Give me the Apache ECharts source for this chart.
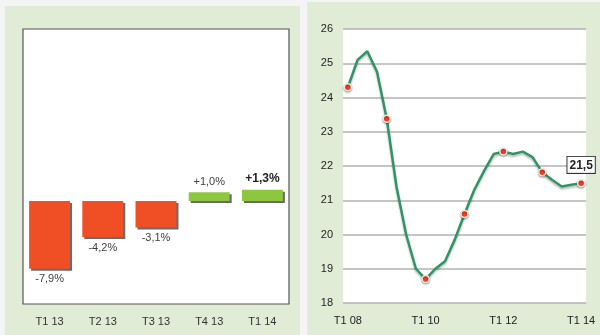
<!DOCTYPE html>
<html><head><meta charset="utf-8">
<script src="https://cdn.jsdelivr.net/npm/echarts@6/dist/echarts.min.js"></script>
<style>html,body{margin:0;padding:0;background:#f4f4f4;}#c{width:600px;height:335px;}</style>
</head><body><div id="c"></div>
<script>
var barCategories = ['T1 13','T2 13','T3 13','T4 13','T1 14'];
var barValues = [-7.9, -4.2, -3.1, 1.0, 1.3];

var lineCategories = ['T1 08','T2 08','T3 08','T4 08','T1 09','T2 09','T3 09','T4 09','T1 10','T2 10','T3 10','T4 10','T1 11','T2 11','T3 11','T4 11','T1 12','T2 12','T3 12','T4 12','T1 13','T2 13','T3 13','T4 13','T1 14'];
var lineValues = [24.3, 25.1, 25.35, 24.75, 23.38, 21.4, 20.0, 19.0, 18.7, 19.0, 19.22, 19.85, 20.6, 21.3, 21.85, 22.35, 22.42, 22.35, 22.42, 22.26, 21.82, 21.6, 21.4, 21.45, 21.5];
var lineYTicks = [18, 19, 20, 21, 22, 23, 24, 25, 26];

var FONT = '"Liberation Sans", Arial, sans-serif';
function fmtPct(v){ return (v > 0 ? '+' : '') + v.toFixed(1).replace('.', ',') + '%'; }
function fmtNum(v){ return v.toFixed(1).replace('.', ','); }

var chart = echarts.init(document.getElementById('c'), null, {renderer:'canvas'});

var barData = barValues.map(function(v, i){
  var last = i === barValues.length - 1;
  return {
    value: v,
    itemStyle: {color: v < 0 ? '#f04e25' : '#8dc63f'},
    label: {
      position: v < 0 ? 'bottom' : 'top',
      fontWeight: last ? 'bold' : 'normal',
      fontSize: last ? 12 : 11,
      color: last ? '#222' : '#404040'
    }
  };
});

var lastIdx = lineValues.length - 1;
var lineData = lineValues.map(function(v, i){
  if (i === lastIdx) {
    return {value: v, label: {
      show: true, position: 'top', distance: 6,
      formatter: function(p){ return fmtNum(p.value); },
      backgroundColor: '#fff', borderColor: '#333', borderWidth: 1,
      padding: [3, 2, 1, 2], fontWeight: 'bold', fontSize: 12, color: '#222', fontFamily: FONT
    }};
  }
  return v;
});

chart.setOption({
  backgroundColor: '#f4f4f4',
  animation: false,
  graphic: [
    {type:'rect', z:-10, shape:{x:5, y:6, width:295, height:329}, style:{fill:'#e0ecd5'}},
    {type:'rect', z:-10, shape:{x:307, y:2, width:293, height:333}, style:{fill:'#e0ecd5'}}
  ],
  grid: [
    {left:23, top:29, width:266, height:275, show:true, backgroundColor:'#fff', borderColor:'#555', borderWidth:1.2, z:0},
    {left:343, top:29, width:243, height:274, show:true, backgroundColor:'#fff', borderWidth:0}
  ],
  xAxis: [
    {gridIndex:0, type:'category', data:barCategories, boundaryGap:true,
     axisLine:{show:false}, axisTick:{show:false},
     axisLabel:{margin:12, fontSize:11, color:'#333', fontFamily:FONT}},
    {gridIndex:1, type:'category', data:lineCategories, boundaryGap:true,
     axisLine:{show:false}, axisTick:{show:false},
     axisLabel:{margin:12, fontSize:11, color:'#222', fontFamily:FONT, interval:7}}
  ],
  yAxis: [
    {gridIndex:0, type:'value', min:-12, max:20, show:false, splitLine:{show:false}},
    {gridIndex:1, type:'value', min:lineYTicks[0], max:lineYTicks[lineYTicks.length-1], interval:1,
     axisLine:{show:false}, axisTick:{show:false},
     axisLabel:{margin:10, fontSize:11, color:'#222', fontFamily:FONT},
     splitLine:{lineStyle:{color:'#b2b2b2', width:1.5}}}
  ],
  series: [
    {type:'bar', xAxisIndex:0, yAxisIndex:0, data:barData, barWidth:'77%',
     itemStyle:{shadowColor:'rgba(90,90,90,0.9)', shadowOffsetX:2, shadowOffsetY:2, shadowBlur:0},
     label:{show:true, distance:5, fontFamily:FONT, formatter:function(p){ return fmtPct(p.value); }}},
    {type:'line', xAxisIndex:1, yAxisIndex:1, data:lineData,
     showSymbol:true, showAllSymbol:true, symbol:'circle',
     symbolSize:function(v, p){ return p.dataIndex % 4 === 0 ? 7 : 0; },
     lineStyle:{color:'#2f9564', width:2.5, shadowColor:'rgba(0,0,0,0.25)', shadowBlur:2, shadowOffsetY:2},
     itemStyle:{color:'#ff3a1a', borderColor:'#e8e8e8', borderWidth:1.5, shadowColor:'rgba(0,0,0,0.35)', shadowBlur:2, shadowOffsetY:1},
     z:5}
  ]
});
</script></body></html>
